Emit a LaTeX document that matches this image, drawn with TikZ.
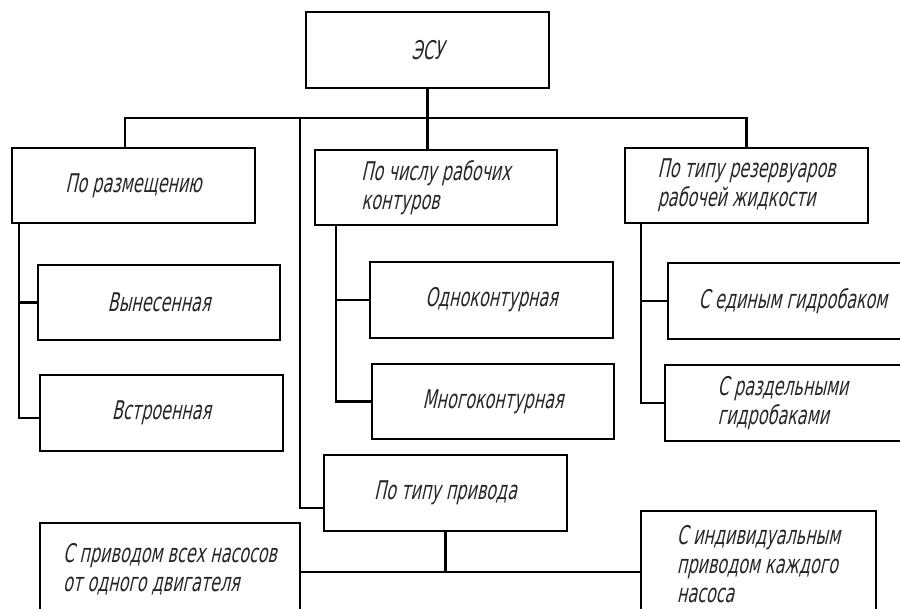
\documentclass[tikz,border=0pt]{standalone}
\usepackage{fontspec}
\newfontfamily\gostfont{DejaVu Sans}[FakeSlant=0.22,FakeStretch=0.62]
\usepackage{tikz}
\tikzset{
  box/.style={draw,line width=2.3pt,inner sep=0pt,align=left,
    font=\gostfont\fontsize{22}{25}\selectfont,text=black!85},
  link/.style={line width=2.3pt}
}
\def\px{0.03cm}

\begin{document}
\begin{tikzpicture}[x=0.03cm,y=-0.03cm]
		\useasboundingbox (0,0) rectangle (900,608);
		\clip (0,0) rectangle (900,608);
		
		% top
		\node[box,minimum width=243*\px,minimum height=76*\px] (esu) at (427.5,50) {ЭСУ};
		
		% first level
		\node[box,minimum width=243*\px,minimum height=75*\px] (razm) at (133.5,185.5) {По размещению};
		\node[box,minimum width=242*\px,minimum height=75*\px] (chislo) at (436,187.5) {По числу рабочих\\контуров};
		\node[box,minimum width=243*\px,minimum height=75*\px] (rezerv) at (746.5,185.5) {По типу резервуаров\\рабочей жидкости};
		
		% second level
		\node[box,minimum width=242*\px,minimum height=75*\px] (vynes) at (159,302.5) {Вынесенная};
		\node[box,minimum width=243*\px,minimum height=76*\px] (vstroen) at (161.5,413) {Встроенная};
		\node[box,minimum width=243*\px,minimum height=76*\px] (odno) at (491.5,300) {Одноконтурная};
		\node[box,minimum width=242*\px,minimum height=75*\px] (mnogo) at (493,401.5) {Многоконтурная};
		\node[box,minimum width=250*\px,minimum height=76*\px] (ediny) at (793,301) {С единым гидробаком};
		\node[box,minimum width=236*\px,minimum height=76*\px] (razdel) at (783,403) {С раздельными\\гидробаками};
		
		% drive type
		\node[box,minimum width=243*\px,minimum height=76*\px] (privod) at (445.5,493) {По типу привода};
		\node[box,minimum width=260*\px,minimum height=92*\px] (vseh) at (170,569) {С приводом всех насосов\\от одного двигателя};
		\node[box,minimum width=235*\px,minimum height=106*\px] (indiv) at (758.5,564) {С индивидуальным\\приводом каждого\\насоса};
		
		% bus under the top box
		\coordinate (busL) at (125,118);
		\coordinate (vx) at (300,0);
		\draw[link] (esu.south) -- (esu.south |- chislo.north);
		\draw[link] (razm.north -| busL) -- (busL) -- (busL -| rezerv.north) -- (rezerv.north);
		\draw[link] (busL -| vx) |- ([yshift=-0.45cm]privod.west);
		
		% branches
		\coordinate (lx) at (19,0);
		\coordinate (mx) at (336,0);
		\coordinate (rx) at (641,0);
		\draw[link] (razm.south -| lx) |- (vynes.west);
		\draw[link] (razm.south -| lx) |- ([yshift=-0.15cm]vstroen.west);
		\draw[link] (chislo.south -| mx) |- (odno.west);
		\draw[link] (chislo.south -| mx) |- (mnogo.west);
		\draw[link] (rezerv.south -| rx) |- (ediny.west);
		\draw[link] (rezerv.south -| rx) |- (razdel.west);
		
		% drive branches
		\coordinate (jn) at (445.5,572);
		\draw[link] (privod.south) -- (privod.south |- jn);
		\draw[link] (vseh.east |- jn) -- (indiv.west |- jn);
	\end{tikzpicture}
\end{document}
